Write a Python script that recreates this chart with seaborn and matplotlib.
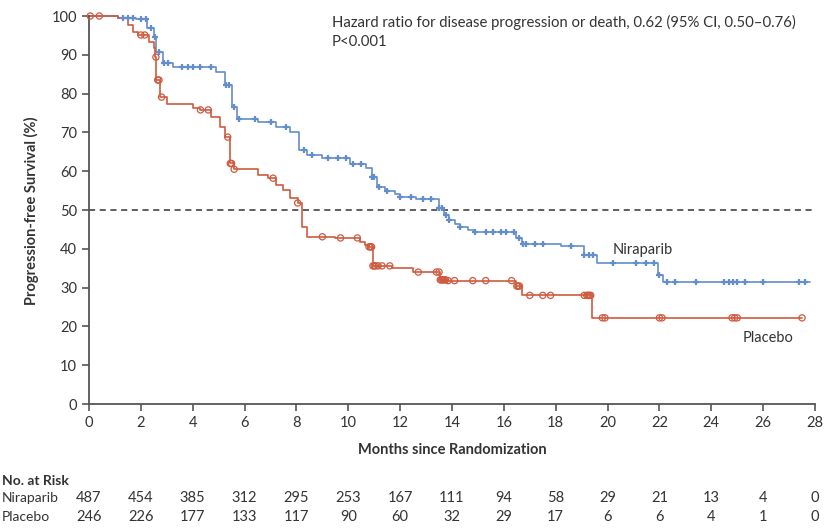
import numpy as np
import matplotlib
matplotlib.use("Agg")
import matplotlib.pyplot as plt
import matplotlib.transforms as mtransforms
import seaborn as sns

# step knots (months, % progression-free)
nir_t = [0, 1.1, 1.8, 2.25, 2.5, 2.6, 2.85, 3.25, 4.9, 5.25, 5.5, 5.7, 6.5, 7.2, 7.75,
         8.1, 8.4, 9.0, 10.05, 10.7, 10.9, 11.1, 11.4, 11.8, 12.0, 12.6, 13.5, 13.7,
         13.9, 14.1, 14.3, 14.6, 14.9, 16.45, 16.7, 18.2, 19.1, 19.6, 21.95, 22.15, 27.8]
nir_s = [100, 99.6, 99.2, 96.9, 94.6, 90.7, 88.0, 86.8, 85.6, 82.2, 76.5, 73.5, 72.7,
         71.4, 70.1, 65.5, 64.2, 63.4, 61.8, 60.8, 58.5, 56.0, 55.0, 54.0, 53.4, 52.8,
         50.5, 48.8, 47.5, 46.5, 45.5, 44.8, 44.3, 42.8, 41.2, 40.8, 38.4, 36.3, 33.3,
         31.5, 31.5]

pla_t = [0, 1.1, 1.5, 1.7, 1.9, 2.3, 2.5, 2.55, 2.6, 2.75, 3.0, 4.0, 4.3, 4.7, 5.05,
         5.25, 5.45, 5.6, 6.5, 6.9, 7.2, 7.5, 7.75, 8.05, 8.2, 8.4, 9.5, 10.45, 10.65,
         10.8, 10.95, 11.7, 12.5, 13.55, 13.8, 16.45, 16.7, 19.4, 27.5]
pla_s = [100, 99.5, 97.7, 95.9, 95.1, 93.3, 91.7, 89.4, 83.5, 79.1, 77.3, 76.3, 75.8,
         74.0, 71.4, 68.8, 62.0, 60.5, 59.0, 58.2, 56.4, 55.2, 53.1, 51.8, 45.6, 43.1,
         42.8, 41.8, 41.0, 40.5, 35.6, 35.0, 34.0, 32.0, 31.8, 30.4, 28.0, 22.2, 22.2]

# censoring times (months)
nir_cens = [1.3, 1.5, 1.7, 2.0, 2.2, 2.4, 2.55, 2.7, 2.9, 3.05, 3.6, 3.8, 4.0, 4.3, 4.7,
            5.3, 5.4, 5.6, 5.8, 6.4, 7.0, 7.6, 8.3, 8.6, 9.2, 9.6, 9.9, 10.2, 10.5, 10.9,
            11.0, 11.2, 11.5, 12.0, 12.4, 12.9, 13.2, 13.5, 13.6, 13.75, 13.9, 14.3, 14.9,
            15.3, 15.6, 15.9, 16.1, 16.4, 16.6, 16.75, 16.85, 17.2, 17.5, 18.6, 19.1, 19.3,
            19.45, 20.2, 21.1, 21.5, 21.8, 22.0, 22.3, 22.6, 23.4, 24.5, 24.7, 24.85, 25.0,
            25.3, 26.0, 27.4, 27.6]
pla_cens = [0.05, 0.4, 2.0, 2.15, 2.58, 2.65, 2.7, 2.8, 4.3, 4.6, 5.35, 5.45, 5.5, 5.6,
            7.1, 8.05, 9.0, 9.7, 10.35, 10.8, 10.85, 10.9, 10.95, 11.0, 11.05, 11.15,
            11.3, 11.6, 12.7, 13.4, 13.5, 13.55, 13.6, 13.65, 13.7, 13.75, 13.85, 14.1,
            14.8, 15.3, 16.3, 16.5, 16.55, 16.6, 17.0, 17.5, 17.8, 19.1, 19.2, 19.25, 19.3,
            19.35, 19.8, 19.9, 22.0, 22.1, 24.8, 24.9, 25.0, 27.5]

risk_months = list(range(0, 29, 2))
risk_nir = [487, 454, 385, 312, 295, 253, 167, 111, 94, 58, 29, 21, 13, 4, 0]
risk_pla = [246, 226, 177, 133, 117, 90, 60, 32, 29, 17, 6, 6, 4, 1, 0]

blue = "#638dcb"
red = "#cf5a3f"
grey = "#555555"

sns.set_style("ticks")
plt.rcParams["font.family"] = ["Lato", "DejaVu Sans"]
plt.rcParams["text.color"] = "#333333"


def step_value(times, surv, when):
    idx = np.searchsorted(times, when, side="right") - 1
    return np.asarray(surv)[idx]


fig = plt.figure(figsize=(8.34, 5.29), dpi=100)
ax = fig.add_axes([89 / 834, 1 - 404 / 529, (815 - 89) / 834, (404 - 16) / 529])

ax.axhline(50, color="#333333", lw=1.1, ls=(0, (4, 3)), zorder=1)

sns.lineplot(x=nir_t, y=nir_s, drawstyle="steps-post", color=blue, lw=1.2,
             estimator=None, sort=False, ax=ax, clip_on=False)
sns.lineplot(x=pla_t, y=pla_s, drawstyle="steps-post", color=red, lw=1.2,
             estimator=None, sort=False, ax=ax, clip_on=False)

sns.scatterplot(x=nir_cens, y=step_value(nir_t, nir_s, nir_cens), marker="+",
                color=blue, s=20, linewidth=1.6, ax=ax, clip_on=False, zorder=3)
sns.scatterplot(x=pla_cens, y=step_value(pla_t, pla_s, pla_cens), marker="o",
                fc="none", ec=red, s=20, linewidth=0.9, ax=ax, clip_on=False, zorder=3)

ax.set_xlim(0, 28)
ax.set_ylim(0, 100)
ax.set_xticks(risk_months)
ax.set_yticks(range(0, 101, 10))
ax.set_xlabel("")
ax.set_ylabel("")
sns.despine(ax=ax)
for sp in ("left", "bottom"):
    ax.spines[sp].set_color(grey)
    ax.spines[sp].set_linewidth(1.3)
ax.tick_params(axis="both", colors=grey, labelcolor="#333333", labelsize=10.5,
               length=5, width=1.2, direction="out")

ax.text(20.2, 39.7, "Niraparib", fontsize=10.5, ha="left", va="center")
ax.text(25.2, 17.0, "Placebo", fontsize=10.5, ha="left", va="center")

fig.text(332 / 834, 1 - 22 / 529,
         "Hazard ratio for disease progression or death, 0.62 (95% CI, 0.50\u20130.76)",
         fontsize=10.7, ha="left", va="center")
fig.text(332 / 834, 1 - 42 / 529, "P<0.001", fontsize=10.7, ha="left", va="center")

fig.text(31 / 834, 1 - 211 / 529, "Progression-free Survival (%)", rotation=90,
         fontsize=10.5, weight="bold", ha="center", va="center")
fig.text(452 / 834, 1 - 450 / 529, "Months since Randomization", fontsize=10.5,
         weight="bold", ha="center", va="center")

# number at risk table
fig.text(2 / 834, 1 - 481 / 529, "No. at Risk", fontsize=10, weight="bold",
         ha="left", va="center")
fig.text(2 / 834, 1 - 498 / 529, "Niraparib", fontsize=10, ha="left", va="center")
fig.text(2 / 834, 1 - 517 / 529, "Placebo", fontsize=10, ha="left", va="center")
trans = mtransforms.blended_transform_factory(ax.transData, fig.transFigure)
for m, a, b in zip(risk_months, risk_nir, risk_pla):
    ax.text(m, 1 - 498 / 529, str(a), transform=trans, fontsize=10.5, ha="center",
            va="center", clip_on=False)
    ax.text(m, 1 - 517 / 529, str(b), transform=trans, fontsize=10.5, ha="center",
            va="center", clip_on=False)

fig.savefig("out.png", dpi=100)
